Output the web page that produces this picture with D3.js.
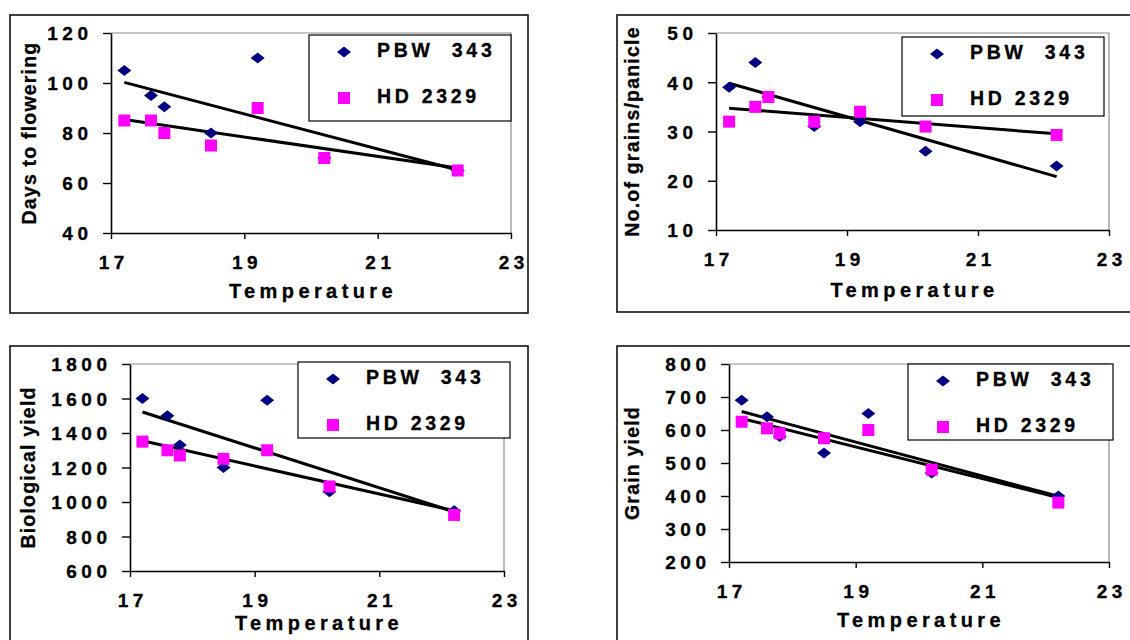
<!DOCTYPE html>
<html>
<head>
<meta charset="utf-8">
<script src="https://cdn.jsdelivr.net/npm/d3@7"></script>
<style>
  body { margin: 0; background: #fff; }
  svg { display: block; font-family: "Liberation Sans", Arial, sans-serif; font-weight: bold; }
  text { stroke: #000; stroke-width: 0.3px; }
</style>
</head>
<body>
<svg id="canvas" width="1130" height="640"></svg>
<script>
// temperatures of the seven sowings (shared by all panels)
var temps = [17.2, 17.6, 17.8, 18.5, 19.2, 20.2, 22.2],
  xTicks = [17, 19, 21, 23],
  varieties = ['PBW  343', 'HD 2329'];

var flowerPBW = [105, 95, 90.5, 80, 110, 70, 65],
  flowerHD = [85, 85, 80, 75, 90, 70, 65],
  flowerTicks = [40, 60, 80, 100, 120];

var grainsPBW = [39, 44, 37, 31, 32, 26, 23],
  grainsHD = [32, 35, 37, 32, 34, 31, 29.3],
  grainsTicks = [10, 20, 30, 40, 50];

var bioPBW = [1600, 1500, 1330, 1200, 1590, 1060, 950],
  bioHD = [1350, 1300, 1270, 1250, 1300, 1090, 925],
  bioTicks = [600, 800, 1000, 1200, 1400, 1600, 1800];

var yieldPBW = [690, 640, 580, 530, 650, 470, 400],
  yieldHD = [625, 605, 590, 575, 600, 480, 380],
  yieldTicks = [200, 300, 400, 500, 600, 700, 800];

var svg = d3.select('#canvas'),
  tickLs = 4.5;

// least squares line, like the excel trendline
function fit(xs, ys) {
  var mx = d3.mean(xs), my = d3.mean(ys),
    sxy = d3.sum(xs, function(x, i) { return (x - mx) * (ys[i] - my); }),
    sxx = d3.sum(xs, function(x) { return (x - mx) * (x - mx); }),
    b = sxy / sxx;
  return function(x) { return my + b * (x - mx); };
}

function panel(o) {
  var g = svg.append('g');
  g.append('rect')
    .attr('x', o.box[0]).attr('y', o.box[1])
    .attr('width', o.box[2]).attr('height', o.box[3])
    .attr('fill', 'none').attr('stroke', '#111').attr('stroke-width', 1.6);

  var x = d3.scaleLinear().domain([17, 23]).range([o.plot[0], o.plot[2]]),
    y = d3.scaleLinear().domain(d3.extent(o.ticks)).range([o.plot[3], o.plot[1]]);

  // grey plot area frame (top / right)
  g.append('path')
    .attr('d', 'M' + x(17) + ',' + y.range()[1] + 'H' + x(23) + 'V' + y.range()[0])
    .attr('fill', 'none').attr('stroke', '#8c8c8c').attr('stroke-width', 1.2);

  var ya = g.append('g').attr('transform', 'translate(' + o.plot[0] + ',0)')
    .call(d3.axisLeft(y).tickValues(o.ticks).tickFormat(d3.format('d'))
      .tickSize(8).tickSizeOuter(0).tickPadding(23 - 8 - tickLs));
  var xa = g.append('g').attr('transform', 'translate(0,' + o.plot[3] + ')')
    .call(d3.axisBottom(x).tickValues(xTicks).tickFormat(d3.format('d'))
      .tickSize(6).tickSizeOuter(0).tickPadding(17));
  [ya, xa].forEach(function(a) {
    a.select('.domain').attr('stroke', '#000').attr('stroke-width', 1.6);
    a.selectAll('.tick line').attr('stroke', '#000').attr('stroke-width', 1.4);
    a.selectAll('text').attr('fill', '#000')
      .style('font-family', '"Liberation Sans", Arial, sans-serif')
      .style('font-weight', 'bold').style('font-size', '19px')
      .style('letter-spacing', tickLs + 'px');
  });
  ya.selectAll('text').attr('dy', '0.36em');
  xa.selectAll('text').attr('dx', tickLs / 2);

  // trend lines
  var ext = d3.extent(temps),
    line = d3.line().x(function(d) { return x(d[0]); }).y(function(d) { return y(d[1]); });
  [o.pbw, o.hd].forEach(function(vals) {
    var f = fit(temps, vals);
    g.append('path')
      .attr('d', line([[ext[0], f(ext[0])], [ext[1], f(ext[1])]]))
      .attr('stroke', '#000').attr('stroke-width', 3).attr('fill', 'none');
  });

  var diamond = 'M0,-5.5L7,0L0,5.5L-7,0Z';
  g.selectAll('.pbw').data(o.pbw).enter().append('path')
    .attr('class', 'pbw')
    .attr('d', diamond)
    .attr('fill', '#000080')
    .attr('transform', function(d, i) { return 'translate(' + x(temps[i]) + ',' + y(d) + ')'; });
  g.selectAll('.hd').data(o.hd).enter().append('rect')
    .attr('class', 'hd')
    .attr('x', function(d, i) { return x(temps[i]) - 6; })
    .attr('y', function(d) { return y(d) - 6; })
    .attr('width', 12).attr('height', 12)
    .attr('fill', '#ff00ff');

  // legend
  var L = o.legend;
  g.append('rect')
    .attr('x', L[0]).attr('y', L[1]).attr('width', L[2]).attr('height', L[3])
    .attr('fill', '#fff').attr('stroke', '#000').attr('stroke-width', 1.2);
  g.append('path').attr('d', diamond).attr('fill', '#000080')
    .attr('transform', 'translate(' + (L[0] + 35) + ',' + (L[1] + 17) + ')');
  g.append('rect').attr('fill', '#ff00ff')
    .attr('x', L[0] + 29).attr('y', L[1] + 57).attr('width', 12).attr('height', 12);
  g.selectAll('.leg').data(varieties).enter().append('text')
    .attr('class', 'leg')
    .attr('x', L[0] + 68)
    .attr('y', function(d, i) { return L[1] + 22 + i * 46; })
    .style('white-space', 'pre')
    .style('font-size', '19.5px')
    .style('letter-spacing', '3.7px')
    .text(function(d) { return d; });

  // axis titles
  g.append('text')
    .attr('x', (o.plot[0] + o.plot[2]) / 2 + 2)
    .attr('y', o.plot[3] + o.xTitleDy)
    .attr('text-anchor', 'middle')
    .style('font-size', '20px')
    .style('letter-spacing', '4.4px')
    .text('Temperature');
  g.append('text')
    .attr('transform', 'translate(' + o.yTitleX + ',' + (o.plot[1] + o.plot[3]) / 2 + ')rotate(-90)')
    .attr('text-anchor', 'middle')
    .style('font-size', '19.5px')
    .style('letter-spacing', '1.2px')
    .text(o.title);
}

panel({title: 'Days to flowering', pbw: flowerPBW, hd: flowerHD, ticks: flowerTicks,
  box: [10, 15, 518, 298], plot: [111, 33, 511, 233], legend: [309, 35, 202, 86],
  yTitleX: 36, xTitleDy: 65});
panel({title: 'No.of grains/panicle', pbw: grainsPBW, hd: grainsHD, ticks: grainsTicks,
  box: [617, 15, 540, 297], plot: [716, 33, 1109, 230], legend: [902, 37, 202, 79],
  yTitleX: 639, xTitleDy: 67});
panel({title: 'Biological yield', pbw: bioPBW, hd: bioHD, ticks: bioTicks,
  box: [10, 346, 518, 320], plot: [130, 364, 504, 571], legend: [298, 362, 212, 76],
  yTitleX: 35, xTitleDy: 59});
panel({title: 'Grain yield', pbw: yieldPBW, hd: yieldHD, ticks: yieldTicks,
  box: [617, 346, 540, 320], plot: [729, 364, 1109, 562], legend: [908, 364, 205, 76],
  yTitleX: 639, xTitleDy: 65});
</script>
</body>
</html>
